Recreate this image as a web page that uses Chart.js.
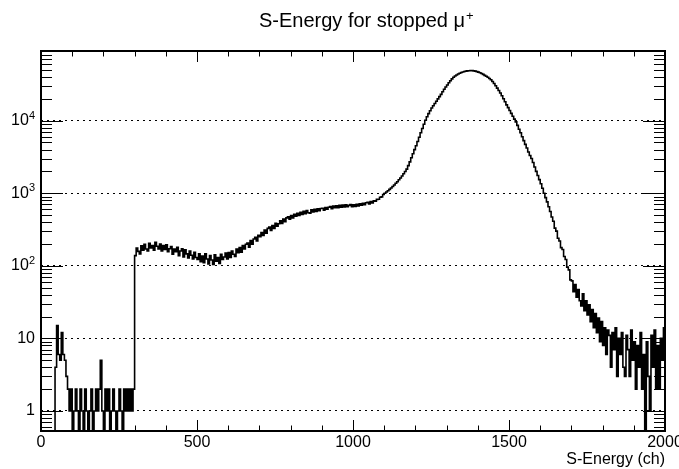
<!DOCTYPE html>
<html>
<head>
<meta charset="utf-8">
<script src="https://cdn.jsdelivr.net/npm/chart.js@4.4.1/dist/chart.umd.min.js"></script>
<style>
  html, body { margin: 0; padding: 0; background: #fff; }
  #chart { display: block; }
</style>
</head>
<body>
<canvas id="chart" width="679" height="469"></canvas>
<script>
// histogram bins, 5 channels wide, starting at channel 0
const binWidth = 5;
const counts = [
  0, 0, 0, 0, 0, 0, 0, 0, 0, 4, 15, 6, 5, 12, 6, 5, 3, 2, 1, 2,
  0, 1, 2, 1, 0, 2, 1, 0, 2, 1, 0, 1, 2, 0, 1, 2, 1, 2, 5, 1,
  0, 2, 1, 2, 0, 1, 2, 1, 0, 1, 2, 1, 0, 2, 1, 2, 1, 2, 1, 2,
  138, 176, 158, 146, 188, 164, 198, 170, 160, 204, 176, 190, 164, 210, 186, 170, 200, 160, 190, 168,
  194, 156, 172, 184, 144, 170, 156, 180, 138, 160, 172, 132, 166, 146, 128, 160, 140, 124, 154, 130,
  122, 146, 114, 136, 110, 146, 124, 106, 138, 120, 104, 142, 116, 130, 108, 144, 122, 132, 150, 124,
  152, 130, 160, 144, 134, 170, 152, 178, 154, 190, 170, 198, 206, 180, 222, 198, 234, 246, 220, 264,
  252, 288, 262, 312, 282, 328, 342, 306, 358, 326, 384, 350, 380, 418, 384, 442, 406, 458, 472, 438,
  494, 458, 512, 484, 530, 494, 544, 510, 562, 522, 576, 538, 530, 590, 552, 598, 560, 612, 574, 616,
  622, 584, 636, 600, 642, 656, 612, 664, 630, 672, 634, 680, 640, 688, 646, 692, 650, 680, 696, 652,
  690, 656, 704, 670, 714, 682, 726, 694, 738, 748, 714, 768, 734, 786, 778, 822, 826, 880, 890, 958,
  1000, 1040, 1080, 1130, 1180, 1240, 1300, 1370, 1440, 1530, 1620, 1730, 1850, 1990, 2150, 2400, 2700, 3080, 3500, 3980,
  4500, 5150, 5900, 6800, 7800, 8900, 10100, 11300, 12500, 13700, 14900, 16000, 17200, 18500, 19900, 21400, 23000, 25000, 27000, 29000,
  31000, 33300, 35500, 37600, 39500, 41100, 42600, 43900, 45000, 46000, 46800, 47500, 48000, 48400, 48700, 48850, 48800, 48500, 48000, 47300,
  46500, 45600, 44500, 43300, 42000, 40800, 39500, 38000, 36500, 34600, 32500, 30200, 28000, 26000, 24000, 22000, 20000, 18200, 16500, 15100,
  13800, 12600, 11500, 10500, 9600, 8600, 7600, 6800, 6000, 5300, 4700, 4200, 3700, 3300, 3000, 2650, 2300, 2000, 1750, 1540,
  1350, 1170, 1000, 870, 760, 650, 560, 470, 410, 330, 300, 240, 220, 178, 168, 134, 122, 96, 88, 64,
  62, 44, 55, 37, 47, 33, 28, 41, 24, 33, 21, 29, 17, 25, 14, 22, 12, 19, 9, 17,
  8, 14, 6, 13, 11, 4, 12, 7, 14, 3, 10, 6, 12, 4, 3, 11, 7, 3, 13, 5,
  9, 2, 8, 4, 12, 2, 6, 0, 9, 3, 1, 11, 4, 13, 2, 8, 2, 10, 5, 14
];

const titleText = 'S-Energy for stopped μ';
const titleSup = '+';
const xTitle = 'S-Energy (ch)';
const xMin = 0, xMax = 2000;
const xMajorStep = 500, xMinorStep = 100;
const yMin = 0.53, yMax = 91000;
const yTickValues = [1, 10, 100, 1000, 10000];
const yTickBase = ['1', '10', '10', '10', '10'];
const yTickExp = ['', '', '2', '3', '4'];

const FONT = "'Liberation Sans', Arial, Helvetica, sans-serif";

// empty bins sit on the bottom of the frame, like ROOT does on a log axis
const points = counts.map((c, i) => ({ x: i * binWidth, y: c > 0 ? c : yMin }));
points.push({ x: counts.length * binWidth, y: counts[counts.length - 1] });

// ROOT-like frame, inward ticks, log labels and title
const rootFrame = {
    id: 'rootFrame',
    afterDraw(chart) {
        const { ctx, chartArea: a, scales: { x, y } } = chart;
        ctx.save();
        ctx.strokeStyle = '#000';
        ctx.lineWidth = 1;
        ctx.beginPath();
        for (let v = xMin; v <= xMax; v += xMinorStep) {
            const px = Math.round(x.getPixelForValue(v)) + 0.5;
            const len = v % xMajorStep === 0 ? 11 : 5.5;
            ctx.moveTo(px, a.bottom); ctx.lineTo(px, a.bottom - len);
            ctx.moveTo(px, a.top); ctx.lineTo(px, a.top + len);
        }
        for (let d = -1; d <= 4; d++) {
            for (let k = 1; k <= 9; k++) {
                const v = k * Math.pow(10, d);
                if (v < y.min || v > y.max) continue;
                const py = Math.round(y.getPixelForValue(v)) + 0.5;
                const len = k === 1 ? 22 : 11;
                ctx.moveTo(a.left, py); ctx.lineTo(a.left + len, py);
                ctx.moveTo(a.right, py); ctx.lineTo(a.right - len, py);
            }
        }
        ctx.stroke();
        ctx.lineWidth = 2;
        ctx.strokeRect(a.left, a.top, a.right - a.left, a.bottom - a.top);

        // y labels with superscript exponents
        ctx.fillStyle = '#000';
        ctx.textBaseline = 'middle';
        ctx.textAlign = 'right';
        const labelRight = a.left - 6;
        yTickValues.forEach((v, i) => {
            const py = y.getPixelForValue(v);
            ctx.font = '11px ' + FONT;
            const ew = yTickExp[i] ? ctx.measureText(yTickExp[i]).width : 0;
            if (yTickExp[i]) ctx.fillText(yTickExp[i], labelRight, py - 5);
            ctx.font = '16px ' + FONT;
            ctx.fillText(yTickBase[i], labelRight - ew, py);
        });

        // title
        ctx.textAlign = 'left';
        ctx.font = '20px ' + FONT;
        const tx = 259, ty = 21;
        ctx.fillText(titleText, tx, ty);
        const tw = ctx.measureText(titleText).width;
        ctx.font = '13px ' + FONT;
        ctx.fillText(titleSup, tx + tw + 1, ty - 5);
        ctx.restore();
    }
};

new Chart(document.getElementById('chart'), {
    type: 'scatter',
    data: {
        datasets: [{
            data: points,
            showLine: true,
            stepped: true,
            borderColor: '#000',
            borderWidth: 1.6,
            pointRadius: 0,
            fill: false
        }]
    },
    options: {
        responsive: false,
        animation: false,
        events: [],
        layout: { padding: { top: 51, right: 14, left: 0, bottom: 0 } },
        plugins: {
            legend: { display: false },
            title: { display: false },
            tooltip: { enabled: false }
        },
        scales: {
            x: {
                type: 'linear',
                min: xMin,
                max: xMax,
                afterFit: s => { s.height = 38; s.paddingLeft = 0; s.paddingRight = 0; },
                grid: { display: false, drawTicks: false },
                border: { display: false },
                ticks: {
                    stepSize: xMajorStep,
                    autoSkip: false,
                    maxRotation: 0,
                    padding: 2,
                    color: '#000',
                    font: { family: FONT, size: 16 },
                    callback: v => String(v)
                },
                title: {
                    display: true,
                    text: xTitle,
                    align: 'end',
                    color: '#000',
                    padding: 0,
                    font: { family: FONT, size: 16 }
                }
            },
            y: {
                type: 'logarithmic',
                min: yMin,
                max: yMax,
                afterBuildTicks: s => { s.ticks = yTickValues.map(v => ({ value: v })); },
                afterFit: s => { s.width = 41; s.paddingTop = 0; s.paddingBottom = 0; },
                grid: { color: '#000', lineWidth: 1, drawTicks: false },
                border: { display: false, dash: [2, 4] },
                ticks: { display: false }
            }
        }
    },
    plugins: [rootFrame]
});
</script>
</body>
</html>
